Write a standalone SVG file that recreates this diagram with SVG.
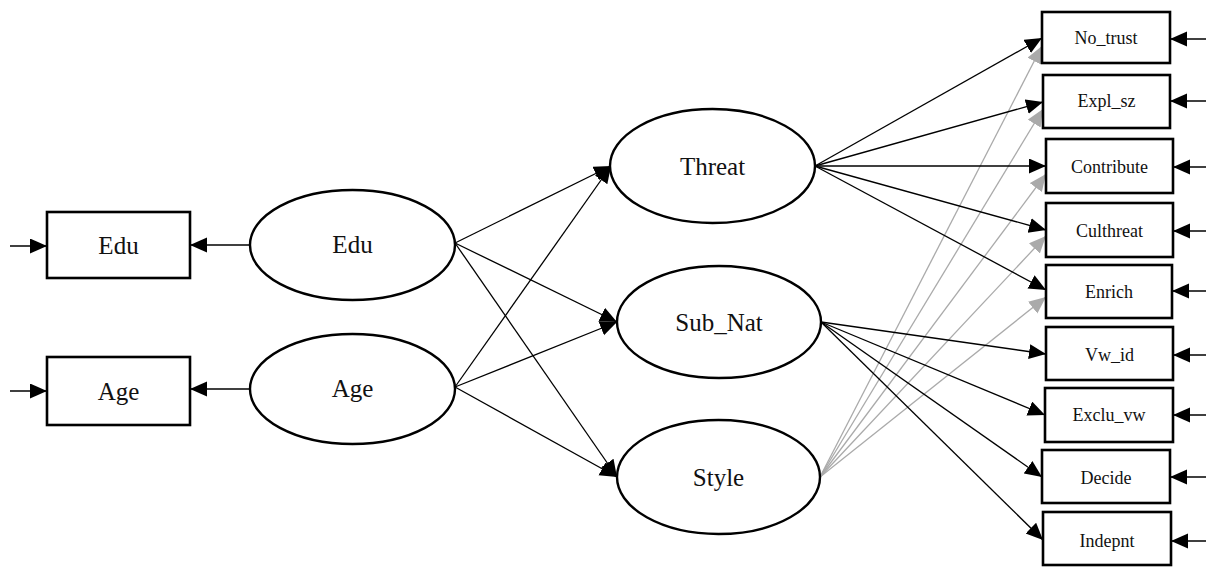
<svg xmlns="http://www.w3.org/2000/svg" width="1206" height="568" viewBox="0 0 1206 568">
  <style>
    .box { fill: #fff; stroke: #000; stroke-width: 2.6; }
    .lat { fill: #fff; stroke: #000; stroke-width: 2.4; }
    .big { font-family: "Liberation Serif", "Times New Roman", serif; font-size: 25px; fill: #111; text-anchor: middle; }
    .small { font-family: "Liberation Serif", "Times New Roman", serif; font-size: 18px; fill: #111; text-anchor: middle; }
    .edge { stroke: #000; stroke-width: 1.3; fill: none; marker-end: url(#ah); }
    .gedge { stroke: #aaa; stroke-width: 1.3; fill: none; marker-end: url(#ahg); }
  </style>
  <defs>
    <marker id="ah" markerUnits="userSpaceOnUse" markerWidth="18" markerHeight="16" refX="17" refY="7.5" orient="auto">
      <path d="M0,0 L17,7.5 L0,15 z" fill="#000"/>
    </marker>
    <marker id="ahg" markerUnits="userSpaceOnUse" markerWidth="18" markerHeight="16" refX="17" refY="7.5" orient="auto">
      <path d="M0,0 L17,7.5 L0,15 z" fill="#aaa"/>
    </marker>
  </defs>
  <rect width="1206" height="568" fill="#fff"/>

  <!-- connectors -->
  <g id="connectors">
    <!-- error terms on indicators -->
    <line class="edge" x1="10" y1="246" x2="47" y2="246"/>
    <line class="edge" x1="10" y1="391" x2="47" y2="391"/>
    <line class="edge" x1="1206" y1="39" x2="1170" y2="39"/>
    <line class="edge" x1="1206" y1="101" x2="1170" y2="101"/>
    <line class="edge" x1="1206" y1="167" x2="1173" y2="167"/>
    <line class="edge" x1="1206" y1="231" x2="1173" y2="231"/>
    <line class="edge" x1="1206" y1="291" x2="1172" y2="291"/>
    <line class="edge" x1="1206" y1="355" x2="1173" y2="355"/>
    <line class="edge" x1="1206" y1="415" x2="1173" y2="415"/>
    <line class="edge" x1="1206" y1="477" x2="1170" y2="477"/>
    <line class="edge" x1="1206" y1="541" x2="1171" y2="541"/>
    <!-- latent to single indicator -->
    <line class="edge" x1="250" y1="245" x2="190" y2="245"/>
    <line class="edge" x1="250" y1="389" x2="190" y2="389"/>
    <!-- structural paths -->
    <line class="edge" x1="455" y1="243" x2="611" y2="166"/>
    <line class="edge" x1="455" y1="243" x2="617" y2="322"/>
    <line class="edge" x1="455" y1="243" x2="617" y2="477"/>
    <line class="edge" x1="455" y1="387" x2="611" y2="166"/>
    <line class="edge" x1="455" y1="387" x2="617" y2="322"/>
    <line class="edge" x1="455" y1="387" x2="617" y2="477"/>
    <!-- Style loadings -->
    <line class="gedge" x1="820" y1="477" x2="1042" y2="46"/>
    <line class="gedge" x1="820" y1="477" x2="1043" y2="109"/>
    <line class="gedge" x1="820" y1="477" x2="1046" y2="174"/>
    <line class="gedge" x1="820" y1="477" x2="1046" y2="236"/>
    <line class="gedge" x1="820" y1="477" x2="1046" y2="297"/>
    <!-- Threat loadings -->
    <line class="edge" x1="815" y1="166" x2="1042" y2="38"/>
    <line class="edge" x1="815" y1="166" x2="1043" y2="102"/>
    <line class="edge" x1="815" y1="166" x2="1046" y2="166"/>
    <line class="edge" x1="815" y1="166" x2="1046" y2="230"/>
    <line class="edge" x1="815" y1="166" x2="1046" y2="290"/>
    <!-- Sub_Nat loadings -->
    <line class="edge" x1="821" y1="322" x2="1046" y2="354"/>
    <line class="edge" x1="821" y1="322" x2="1045" y2="415"/>
    <line class="edge" x1="821" y1="322" x2="1042" y2="477"/>
    <line class="edge" x1="821" y1="322" x2="1043" y2="540"/>
  </g>

  <!-- observed: left -->
  <g id="obs-edu">
    <rect class="box" x="47" y="212" width="143" height="66"/>
    <text class="big" x="118.5" y="254">Edu</text>
  </g>
  <g id="obs-age">
    <rect class="box" x="47" y="357" width="143" height="68"/>
    <text class="big" x="118.5" y="400">Age</text>
  </g>

  <!-- latent variables -->
  <g id="lat-edu">
    <ellipse class="lat" cx="352.5" cy="245" rx="102.5" ry="55"/>
    <text class="big" x="352.5" y="253">Edu</text>
  </g>
  <g id="lat-age">
    <ellipse class="lat" cx="352.5" cy="389" rx="102.5" ry="55"/>
    <text class="big" x="352.5" y="397">Age</text>
  </g>
  <g id="lat-threat">
    <ellipse class="lat" cx="712.5" cy="166" rx="102.5" ry="57"/>
    <text class="big" x="712.5" y="175">Threat</text>
  </g>
  <g id="lat-subnat">
    <ellipse class="lat" cx="719" cy="322" rx="102" ry="56"/>
    <text class="big" x="719" y="331">Sub_Nat</text>
  </g>
  <g id="lat-style">
    <ellipse class="lat" cx="718.5" cy="477" rx="101.5" ry="57"/>
    <text class="big" x="718.5" y="486">Style</text>
  </g>

  <!-- observed: right -->
  <g id="obs-no-trust">
    <rect class="box" x="1042" y="12" width="128" height="51"/>
    <text class="small" x="1106" y="44">No_trust</text>
  </g>
  <g id="obs-expl-sz">
    <rect class="box" x="1043" y="75" width="127" height="53"/>
    <text class="small" x="1106.5" y="107">Expl_sz</text>
  </g>
  <g id="obs-contribute">
    <rect class="box" x="1046" y="139" width="127" height="54"/>
    <text class="small" x="1109.5" y="173">Contribute</text>
  </g>
  <g id="obs-culthreat">
    <rect class="box" x="1046" y="203" width="127" height="54"/>
    <text class="small" x="1109.5" y="237">Culthreat</text>
  </g>
  <g id="obs-enrich">
    <rect class="box" x="1046" y="265" width="126" height="53"/>
    <text class="small" x="1109" y="298">Enrich</text>
  </g>
  <g id="obs-vw-id">
    <rect class="box" x="1046" y="327" width="127" height="53"/>
    <text class="small" x="1109.5" y="361">Vw_id</text>
  </g>
  <g id="obs-exclu-vw">
    <rect class="box" x="1045" y="388" width="128" height="54"/>
    <text class="small" x="1109" y="421">Exclu_vw</text>
  </g>
  <g id="obs-decide">
    <rect class="box" x="1042" y="450" width="128" height="53"/>
    <text class="small" x="1106" y="484">Decide</text>
  </g>
  <g id="obs-indepnt">
    <rect class="box" x="1043" y="512" width="128" height="53"/>
    <text class="small" x="1107" y="547">Indepnt</text>
  </g>
</svg>
